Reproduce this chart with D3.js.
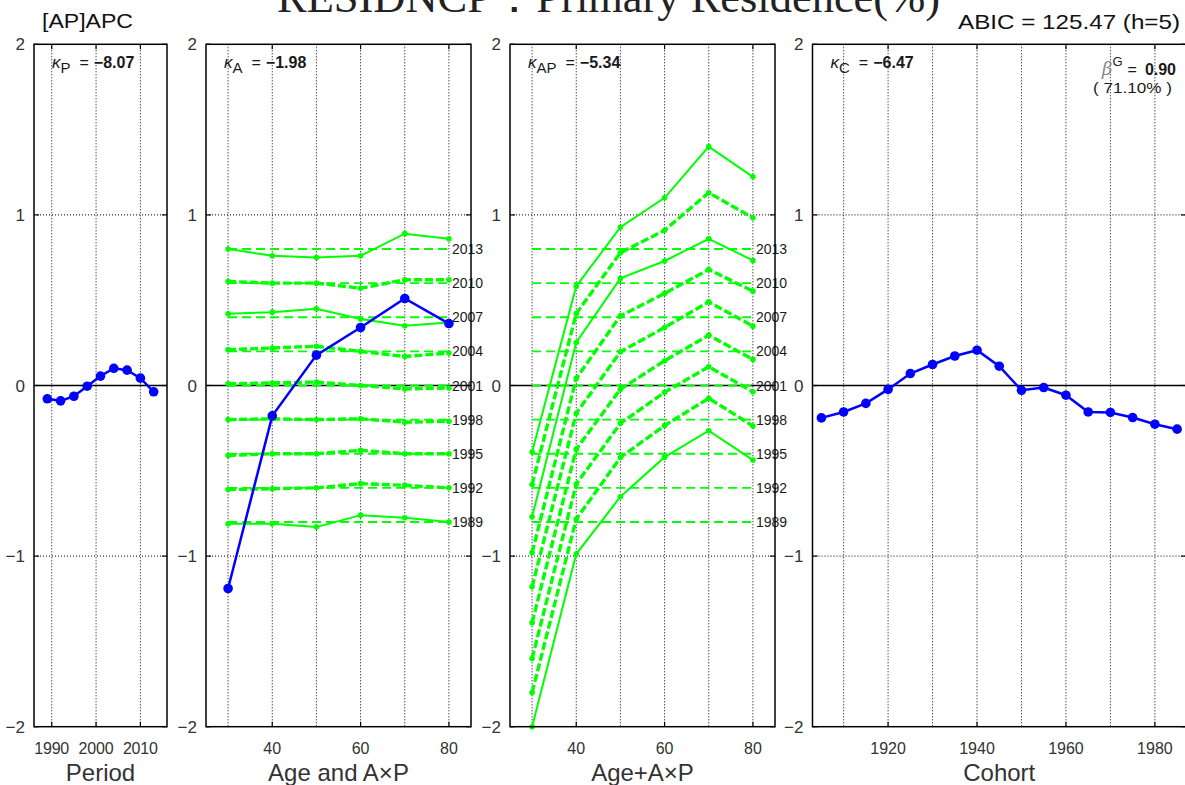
<!DOCTYPE html>
<html>
<head>
<meta charset="utf-8">
<script src="https://cdn.jsdelivr.net/npm/d3@7"></script>
<style>
  body { margin: 0; background: #fff; }
  svg { display: block; font-family: "Liberation Sans", Arial, sans-serif; }
</style>
</head>
<body>
<svg id="chart" width="1185" height="785"></svg>
<script>
// period effect
var periods = [1989, 1992, 1995, 1998, 2001, 2004, 2007, 2010, 2013];
var periodEffect = [-0.078, -0.090, -0.063, -0.004, 0.055, 0.101, 0.090, 0.043, -0.037];

// age effect
var ages = [30, 40, 50, 60, 70, 80];
var ageEffect = [-1.19, -0.178, 0.178, 0.340, 0.510, 0.363];

// A x P interaction, one row per period (1989 .. 2013), drawn around the period level
var periodLevels = [-0.8, -0.6, -0.4, -0.2, 0, 0.2, 0.4, 0.6, 0.8];
var interaction = [
    [-0.01, -0.01, -0.03, 0.04, 0.025, 0.00],
    [-0.01, -0.005, 0.00, 0.025, 0.015, 0.00],
    [-0.01, 0.00, 0.00, 0.02, 0.00, 0.00],
    [0.00, 0.005, 0.00, 0.005, -0.015, -0.01],
    [0.01, 0.015, 0.02, 0.00, -0.02, -0.015],
    [0.01, 0.02, 0.03, 0.00, -0.03, -0.01],
    [0.02, 0.03, 0.05, -0.01, -0.05, -0.03],
    [0.01, 0.00, 0.00, -0.03, 0.02, 0.02],
    [0.00, -0.04, -0.05, -0.04, 0.09, 0.06]
];
var interactionSolid = [true, false, false, false, false, false, true, false, true];

// cohort effect
var cohorts = [1905, 1910, 1915, 1920, 1925, 1930, 1935, 1940, 1945, 1950, 1955, 1960, 1965, 1970, 1975, 1980, 1985];
var cohortEffect = [-0.190, -0.155, -0.105, -0.023, 0.070, 0.123, 0.173, 0.207, 0.113, -0.028, -0.012, -0.057, -0.155, -0.158, -0.188, -0.227, -0.256];

var yTicks = [-2, -1, 0, 1, 2];
var kappaSubs = ['P', 'A', 'AP', 'C'];
var kappaVals = ['\u22128.07', '\u22121.98', '\u22125.34', '\u22126.47'];
var axisTitles = ['Period', 'Age and A\u00d7P', 'Age+A\u00d7P', 'Cohort'];

var BLUE = '#0000ff', GREEN = '#00ff00', TXT = '#1a1a1a';

var svg = d3.select('#chart');
svg.append('rect').attr('width', 1185).attr('height', 785).attr('fill', '#fff');

var y = d3.scaleLinear().domain([-2, 2]).range([726.7, 44.3]);

var panels = [
    {x: d3.scaleLinear().domain([1986, 2016]).range([34, 167]), grid: [1990, 2000, 2010], ticks: [1990, 2000, 2010]},
    {x: d3.scaleLinear().domain([25, 85]).range([206, 471]), grid: [30, 40, 50, 60, 70, 80], ticks: [40, 60, 80]},
    {x: d3.scaleLinear().domain([25, 85]).range([510, 775]), grid: [30, 40, 50, 60, 70, 80], ticks: [40, 60, 80]},
    {x: d3.scaleLinear().domain([1903, 1987]).range([812.5, 1186]), grid: [1910, 1920, 1930, 1940, 1950, 1960, 1970, 1980], ticks: [1920, 1940, 1960, 1980]}
];

function drawFrame(p, i) {
    var g = svg.append('g');
    var x0 = p.x.range()[0], x1 = p.x.range()[1];

    // dotted grid
    g.selectAll('line.vg').data(p.grid).enter().append('line')
        .attr('x1', d => p.x(d)).attr('x2', d => p.x(d))
        .attr('y1', y(2)).attr('y2', y(-2))
        .attr('stroke', '#000').attr('stroke-width', 1).attr('stroke-dasharray', '1,2');
    g.selectAll('line.hg').data([1, -1]).enter().append('line')
        .attr('x1', x0).attr('x2', x1)
        .attr('y1', d => y(d)).attr('y2', d => y(d))
        .attr('stroke', '#000').attr('stroke-width', 1).attr('stroke-dasharray', '1,2');

    // zero line
    g.append('line').attr('x1', x0).attr('x2', x1).attr('y1', y(0)).attr('y2', y(0))
        .attr('stroke', '#000').attr('stroke-width', 1.6);

    // y tick labels
    g.selectAll('text.yt').data(yTicks).enter().append('text')
        .attr('x', x0 - 9).attr('y', d => y(d) + 6)
        .attr('text-anchor', 'end').attr('font-size', 17).attr('fill', '#333')
        .text(d => d < 0 ? '\u2212' + Math.abs(d) : d);

    // x tick labels
    g.selectAll('text.xt').data(p.ticks).enter().append('text')
        .attr('x', d => p.x(d)).attr('y', 754)
        .attr('text-anchor', 'middle').attr('font-size', 16).attr('fill', '#333')
        .attr('textLength', d => i == 0 ? 35 : null)
        .text(d => d);

    g.append('text').attr('x', (x0 + Math.min(x1, 1186)) / 2).attr('y', 781)
        .attr('text-anchor', 'middle').attr('font-size', 24).attr('fill', '#333')
        .text(axisTitles[i]);
}

function drawBox(p) {
    var g = svg.append('g');
    var x0 = p.x.range()[0], x1 = p.x.range()[1];
    // inward ticks
    g.selectAll('line.tb').data(p.ticks).enter().append('line')
        .attr('x1', d => p.x(d)).attr('x2', d => p.x(d))
        .attr('y1', y(-2)).attr('y2', y(-2) - 5).attr('stroke', '#000').attr('stroke-width', 1.2);
    g.selectAll('line.tt').data(p.ticks).enter().append('line')
        .attr('x1', d => p.x(d)).attr('x2', d => p.x(d))
        .attr('y1', y(2)).attr('y2', y(2) + 5).attr('stroke', '#000').attr('stroke-width', 1.2);
    g.selectAll('line.tl').data(yTicks).enter().append('line')
        .attr('x1', x0).attr('x2', x0 + 5)
        .attr('y1', d => y(d)).attr('y2', d => y(d)).attr('stroke', '#000').attr('stroke-width', 1.2);
    g.selectAll('line.tr').data(yTicks).enter().append('line')
        .attr('x1', x1).attr('x2', x1 - 5)
        .attr('y1', d => y(d)).attr('y2', d => y(d)).attr('stroke', '#000').attr('stroke-width', 1.2);
    g.append('rect').attr('x', x0).attr('y', y(2))
        .attr('width', x1 - x0).attr('height', y(-2) - y(2))
        .attr('fill', 'none').attr('stroke', '#000').attr('stroke-width', 1.5);
}

function drawKappa(p, i) {
    var t = svg.append('text')
        .attr('x', p.x.range()[0] + 18).attr('y', 68)
        .attr('font-size', 16).attr('fill', TXT);
    t.append('tspan').attr('font-style', 'italic').attr('font-size', 17).text('\u03ba');
    t.append('tspan').attr('dy', 5).attr('font-size', 15).text(kappaSubs[i]);
    t.append('tspan').attr('dy', -5).attr('dx', 9).text('=');
    t.append('tspan').attr('dx', 5).attr('font-weight', 'bold').text(kappaVals[i]);
}

function blueSeries(p, xs, vs) {
    var pts = xs.map((d, k) => [p.x(d), y(vs[k])]);
    svg.append('path').attr('d', d3.line()(pts))
        .attr('fill', 'none').attr('stroke', BLUE).attr('stroke-width', 2.5);
    svg.selectAll(null).data(pts).enter().append('circle')
        .attr('cx', d => d[0]).attr('cy', d => d[1]).attr('r', 4.8).attr('fill', BLUE);
}

function greenSet(p, withAge) {
    // dashed reference levels with period labels
    periodLevels.forEach(function(lv, k) {
        svg.append('line')
            .attr('x1', p.x(ages[0])).attr('x2', p.x(ages[ages.length - 1]))
            .attr('y1', y(lv)).attr('y2', y(lv))
            .attr('stroke', GREEN).attr('stroke-width', 1.8).attr('stroke-dasharray', '9,5');
        svg.append('text')
            .attr('x', p.x(ages[ages.length - 1]) + 3).attr('y', y(lv) + 5)
            .attr('font-size', 14).attr('fill', TXT)
            .text(periods[k]);
    });
    interaction.forEach(function(row, k) {
        var pts = ages.map((a, j) => [p.x(a), y(periodLevels[k] + row[j] + (withAge ? ageEffect[j] : 0))]);
        var solid = interactionSolid[k];
        svg.append('path').attr('d', d3.line()(pts))
            .attr('fill', 'none').attr('stroke', GREEN)
            .attr('stroke-width', solid ? 2 : 3.4)
            .attr('stroke-dasharray', solid ? null : '8,3');
        svg.selectAll(null).data(pts).enter().append('circle')
            .attr('cx', d => d[0]).attr('cy', d => d[1]).attr('r', 2.8).attr('fill', GREEN);
    });
}

panels.forEach(drawFrame);

greenSet(panels[1], false);
greenSet(panels[2], true);

blueSeries(panels[0], periods, periodEffect);
blueSeries(panels[1], ages, ageEffect);
blueSeries(panels[3], cohorts, cohortEffect);

panels.forEach(drawBox);
panels.forEach(drawKappa);

// titles and notes
svg.append('text').attr('x', 277).attr('y', 12)
    .attr('font-family', '"Liberation Serif", "DejaVu Serif", serif').attr('font-size', 44).attr('fill', '#222')
    .attr('textLength', 663).attr('lengthAdjust', 'spacingAndGlyphs')
    .text('RESIDNCP\uff1aPrimary Residence(%)');

svg.append('text').attr('x', 42).attr('y', 28).attr('font-size', 21).attr('fill', '#111')
    .attr('textLength', 91).attr('lengthAdjust', 'spacingAndGlyphs').text('[AP]APC');
svg.append('text').attr('x', 958).attr('y', 29)
    .attr('font-size', 21).attr('fill', '#111')
    .attr('textLength', 222).attr('lengthAdjust', 'spacingAndGlyphs').text('ABIC = 125.47 (h=5)');

var bt = svg.append('text').attr('x', 1102).attr('y', 75).attr('font-size', 16).attr('fill', TXT);
bt.append('tspan').attr('font-family', '"DejaVu Serif", serif').attr('font-style', 'italic')
    .attr('font-size', 18).attr('fill', '#888').text('\u03b2');
bt.append('tspan').attr('dy', -9).attr('font-size', 13).text('G');
bt.append('tspan').attr('dy', 9).attr('dx', 5).text('=');
bt.append('tspan').attr('dx', 8).attr('font-weight', 'bold').text('0.90');
svg.append('text').attr('x', 1093).attr('y', 93).attr('font-size', 15).attr('fill', TXT)
    .attr('textLength', 79).attr('lengthAdjust', 'spacingAndGlyphs').text('( 71.10% )');
</script>
</body>
</html>
